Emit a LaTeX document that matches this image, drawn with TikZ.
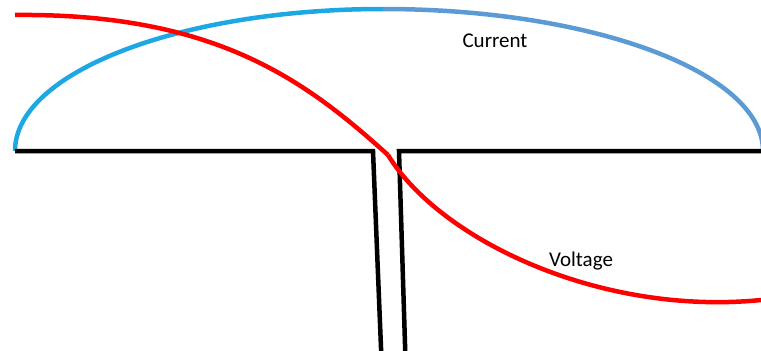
\documentclass[tikz,border=0pt]{standalone}
\usepackage{fontspec}
\setmainfont{Carlito}
\usepackage{xcolor}
\definecolor{curleft}{HTML}{1DA8E4}
\definecolor{curright}{HTML}{5B9BD5}
\definecolor{voltred}{HTML}{FF0000}

\begin{document}
\begin{tikzpicture}[x=1pt, y=-1pt,
    wire/.style={line width=4.5pt, black, miter limit=10},
    curwave/.style={line width=4.5pt},
    voltwave/.style={line width=4.5pt, voltred},
    lbl/.style={font=\fontsize{21}{25}\selectfont}]
    \useasboundingbox (0,0) rectangle (761,351);
    \clip (0,0) rectangle (761,351);
    % current (two quarter ellipses)
    \draw[curwave, curleft] (15,151) arc[start angle=180, end angle=90, x radius=368, y radius=-142];
    \draw[curwave, curright] (383,9) arc[start angle=90, end angle=0, x radius=380, y radius=-142];
    % conductor
    \draw[wire] (15,151) -- (373,151) -- (381.5,360);
    \draw[wire] (405.5,360) -- (399,151) -- (770,151);
    % voltage
    \coordinate (vtop) at (15,15);
    \coordinate (vmid) at (388,155);
    \coordinate (vend) at (761,300);
    \draw[voltwave] (vtop) .. controls (215,13) and (305,80) .. (vmid);
    \draw[voltwave] (vmid) .. controls (440,240) and (600,316) .. (vend);
    \node[lbl] (cur) at (495,41) {Current};
    \node[lbl] (volt) at (581,261) {Voltage};
\end{tikzpicture}
\end{document}
